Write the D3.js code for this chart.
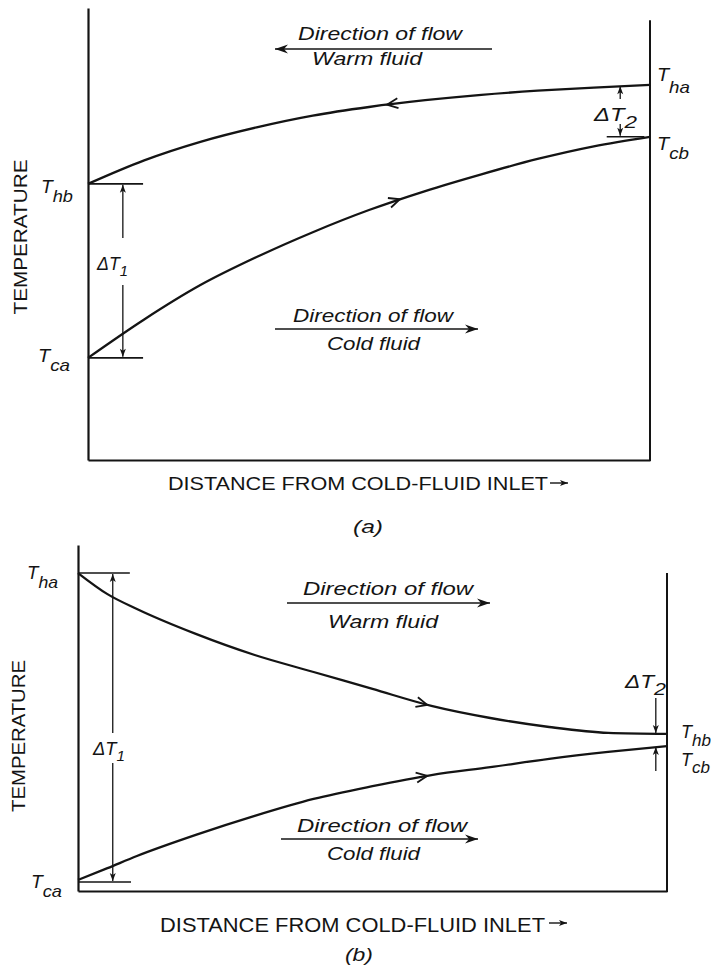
<!DOCTYPE html>
<html><head><meta charset="utf-8">
<script src="https://cdn.jsdelivr.net/npm/d3@7"></script>
<style>body{margin:0;background:#fff} svg{display:block}</style>
</head><body>
<svg id="c" width="711" height="972"></svg>
<script>
// ---------- data (distance as fraction of exchanger length, temperature in arbitrary units) ----------
const distA = [0, 0.1, 0.2, 0.3, 0.4, 0.5, 0.6, 0.7, 0.8, 0.9, 1];
const warmA = [61.1, 66.3, 70.4, 73.6, 76.2, 78.1, 79.6, 80.8, 81.7, 82.4, 83.0];
const coldA = [22.6, 31.1, 38.7, 44.9, 50.4, 55.3, 59.5, 63.2, 66.6, 69.4, 71.5];

const distB = [0, 0.05, 0.1, 0.2, 0.3, 0.4, 0.5, 0.6, 0.7, 0.8, 0.9, 1];
const warmB = [91.9, 85.8, 81.5, 74.3, 68.2, 63.3, 58.4, 53.5, 50.0, 47.4, 45.7, 45.4];
const coldB = [3.2, 6.6, 10.1, 16.2, 21.7, 26.6, 30.3, 33.5, 35.8, 38.2, 40.2, 41.9];

const xAxisLabel = "DISTANCE FROM COLD-FLUID INLET";
const yAxisLabel = "TEMPERATURE";
const flowTitle = "Direction of flow";
const warmLabel = "Warm fluid";
const coldLabel = "Cold fluid";
const panelLabels = ["(a)", "(b)"];

// ---------- drawing ----------
const svg = d3.select("#c");
const INK = "#141414";
const FONT = "'Liberation Sans', Arial, sans-serif";
const defs = svg.append("defs");
function barb(id, L, W, N) {
  defs.append("marker").attr("id", id)
    .attr("viewBox", `${-L - 1} ${-W - 1} ${L + 2} ${2 * W + 2}`)
    .attr("refX", 0).attr("refY", 0)
    .attr("markerWidth", L + 2).attr("markerHeight", 2 * W + 2)
    .attr("markerUnits", "userSpaceOnUse").attr("orient", "auto")
    .append("path").attr("d", `M0,0 L${-L},${-W} L${-N},0 L${-L},${W} Z`).attr("fill", INK);
}
barb("big", 13, 4.5, 9);
barb("small", 8, 3, 6);

function line(g, x1, y1, x2, y2, w, marker) {
  const l = g.append("line").attr("x1", x1).attr("y1", y1).attr("x2", x2).attr("y2", y2)
    .attr("stroke", INK).attr("stroke-width", w);
  if (marker) l.attr("marker-end", `url(#${marker})`);
  return l;
}
function text(g, x, y, s, size, opts = {}) {
  const t = g.append("text").attr("x", x).attr("y", y).text(s)
    .attr("font-family", FONT).attr("font-size", size).attr("fill", INK);
  if (opts.italic) t.attr("font-style", "italic");
  if (opts.len) t.attr("textLength", opts.len).attr("lengthAdjust", "spacingAndGlyphs");
  if (opts.anchor) t.attr("text-anchor", opts.anchor);
  return t;
}
function tLabel(g, x, y, sub, opts = {}) {
  const t = g.append("text").attr("x", x).attr("y", y)
    .attr("font-family", FONT).attr("font-style", "italic").attr("fill", INK).attr("font-size", opts.size || 18);
  t.append("tspan").text(opts.prefix || "T");
  t.append("tspan").attr("dy", opts.dy || 9).attr("font-size", opts.subSize || 17).text(sub);
  if (opts.len) t.attr("textLength", opts.len).attr("lengthAdjust", "spacingAndGlyphs");
  return t;
}
function chevron(g, pathNode, xTarget, dir) {
  let lo = 0, hi = pathNode.getTotalLength();
  for (let i = 0; i < 40; i++) {
    const mid = (lo + hi) / 2;
    if (pathNode.getPointAtLength(mid).x < xTarget) lo = mid; else hi = mid;
  }
  const p = pathNode.getPointAtLength(lo);
  const p1 = pathNode.getPointAtLength(Math.max(0, lo - 3));
  const p2 = pathNode.getPointAtLength(lo + 3);
  let ang = Math.atan2(p2.y - p1.y, p2.x - p1.x) * 180 / Math.PI;
  if (dir < 0) ang += 180;
  g.append("path").attr("d", "M-11,-5 L0,0 L-11,5")
    .attr("transform", `translate(${p.x},${p.y}) rotate(${ang})`)
    .attr("fill", "none").attr("stroke", INK).attr("stroke-width", 1.8)
    .attr("stroke-linejoin", "miter");
}

function drawPanel(cfg) {
  const g = svg.append("g");
  const x = d3.scaleLinear().domain([0, 1]).range(cfg.xr);
  const y = d3.scaleLinear().domain([0, 100]).range(cfg.yr);

  // axes (no ticks)
  g.append("g").attr("transform", `translate(${cfg.xr[0]},0)`)
    .call(d3.axisLeft(y).ticks(0).tickSizeOuter(0));
  g.append("g").attr("transform", `translate(0,${cfg.yr[0]})`)
    .call(d3.axisBottom(x).ticks(0).tickSizeOuter(0));
  g.selectAll(".domain").attr("stroke", INK).attr("stroke-width", 2.2);
  // right wall
  line(g, x(1), y(cfg.wallTop), x(1), y(0) + 1, 2);

  // curves
  const gen = d3.line().x(d => x(d[0])).y(d => y(d[1])).curve(d3.curveMonotoneX);
  const wp = g.append("path").datum(cfg.dist.map((d, i) => [d, cfg.warm[i]]))
    .attr("d", gen).attr("fill", "none").attr("stroke", INK).attr("stroke-width", 2.3);
  const cp = g.append("path").datum(cfg.dist.map((d, i) => [d, cfg.cold[i]]))
    .attr("d", gen).attr("fill", "none").attr("stroke", INK).attr("stroke-width", 2.3);
  chevron(g, wp.node(), x(cfg.warmArrow[0]), cfg.warmArrow[1]);
  chevron(g, cp.node(), x(cfg.coldArrow[0]), cfg.coldArrow[1]);

  return { g, x, y };
}

// ======== Panel (a): counterflow ========
{
  const { g, x, y } = drawPanel({
    xr: [88, 650], yr: [460, 8], dist: distA, warm: warmA, cold: coldA, wallTop: 97.3,
    warmArrow: [0.532, -1], coldArrow: [0.555, 1]
  });
  const yhb = y(warmA[0]), yca = y(coldA[0]);
  const yha = y(warmA[warmA.length - 1]), ycb = y(coldA[coldA.length - 1]);
  // inlet/outlet ticks
  line(g, x(0), yhb, x(0.098), yhb, 1.6);
  line(g, x(0), yca, x(0.098), yca, 1.6);
  line(g, x(0.923), ycb, x(0.99), ycb, 1.6);
  // dT1
  const xd1 = x(0.062);
  line(g, xd1, 238, xd1, yhb + 1, 1.3, "small");
  line(g, xd1, 285, xd1, yca - 1, 1.3, "small");
  tLabel(g, 97, 270, "1", { prefix: "\u0394T", dy: 6, size: 18, subSize: 15, len: 31 });
  // dT2
  const xd2 = x(0.947);
  line(g, xd2, 99, xd2, yha + 1.5, 1.3, "small");
  line(g, xd2, 124, xd2, ycb - 1, 1.3, "small");
  tLabel(g, 594, 121, "2", { prefix: "\u0394T", dy: 7, size: 18, subSize: 17, len: 43 });
  // T labels
  tLabel(g, 41, yhb + 9, "hb", { len: 32 });
  tLabel(g, 38, yca + 4, "ca", { len: 32 });
  tLabel(g, 657, yha - 4, "ha", { len: 33, dy: 12 });
  tLabel(g, 657, ycb + 13, "cb", { len: 32 });
  // flow direction legends
  text(g, 298, 40, flowTitle, 18, { italic: true, len: 164 });
  line(g, 492, 49, 275, 49, 1.5, "big");
  text(g, 312, 65, warmLabel, 18, { italic: true, len: 110 });
  text(g, 293, 322, flowTitle, 18, { italic: true, len: 160 });
  line(g, 275, 329, 478, 329, 1.5, "big");
  text(g, 327, 350, coldLabel, 18, { italic: true, len: 93 });
  // axis titles
  text(g, 168, 490, xAxisLabel, 18, { len: 380 });
  line(g, 550, 483, 568, 483, 1.4, "small");
  g.append("text").attr("transform", "translate(26.5,237) rotate(-90)")
    .attr("text-anchor", "middle").attr("font-family", FONT).attr("font-size", 19).attr("fill", INK)
    .attr("textLength", 155).attr("lengthAdjust", "spacingAndGlyphs").text(yAxisLabel);
  text(g, 368, 533, panelLabels[0], 19, { italic: true, anchor: "middle", len: 30 });
}

// ======== Panel (b): parallel flow ========
{
  const { g, x, y } = drawPanel({
    xr: [78, 667], yr: [891, 545], dist: distB, warm: warmB, cold: coldB, wallTop: warmB[0],
    warmArrow: [0.593, 1], coldArrow: [0.593, 1]
  });
  const yha = y(warmB[0]), yca = y(coldB[0]);
  const yhb = y(warmB[warmB.length - 1]), ycb = y(coldB[coldB.length - 1]);
  line(g, x(0), yha, x(0.088), yha, 1.6);
  line(g, x(0), yca + 2, x(0.09), yca + 2, 1.6);
  // dT1
  const xd1 = x(0.059);
  line(g, xd1, 733, xd1, yha + 1, 1.3, "small");
  line(g, xd1, 763, xd1, yca + 1, 1.3, "small");
  tLabel(g, 93, 755, "1", { prefix: "\u0394T", dy: 6, size: 18, subSize: 15, len: 32 });
  // dT2
  const xd2 = x(0.981);
  line(g, xd2, 698, xd2, yhb - 1, 1.3, "small");
  line(g, xd2, 771, xd2, ycb + 1, 1.3, "small");
  tLabel(g, 625, 688, "2", { prefix: "\u0394T", dy: 7, size: 18, subSize: 17, len: 41 });
  // T labels
  tLabel(g, 27, yha + 6, "ha", { len: 31 });
  tLabel(g, 31, yca + 8, "ca", { len: 31 });
  tLabel(g, 681, yhb + 4, "hb", { len: 30, dy: 8 });
  tLabel(g, 681, ycb + 20, "cb", { len: 29, dy: 7 });
  // flow direction legends
  text(g, 303, 595, flowTitle, 18, { italic: true, len: 170 });
  line(g, 287, 603, 490, 603, 1.5, "big");
  text(g, 328, 628, warmLabel, 18, { italic: true, len: 110 });
  text(g, 297, 832, flowTitle, 18, { italic: true, len: 170 });
  line(g, 281, 839, 478, 839, 1.5, "big");
  text(g, 327, 860, coldLabel, 18, { italic: true, len: 93 });
  // axis titles
  text(g, 160, 932, xAxisLabel, 20, { len: 385 });
  line(g, 549, 923, 567, 923, 1.4, "small");
  g.append("text").attr("transform", "translate(25,736) rotate(-90)")
    .attr("text-anchor", "middle").attr("font-family", FONT).attr("font-size", 19).attr("fill", INK)
    .attr("textLength", 152).attr("lengthAdjust", "spacingAndGlyphs").text(yAxisLabel);
  text(g, 359, 961, panelLabels[1], 19, { italic: true, anchor: "middle", len: 28 });
}
</script>
</body></html>
